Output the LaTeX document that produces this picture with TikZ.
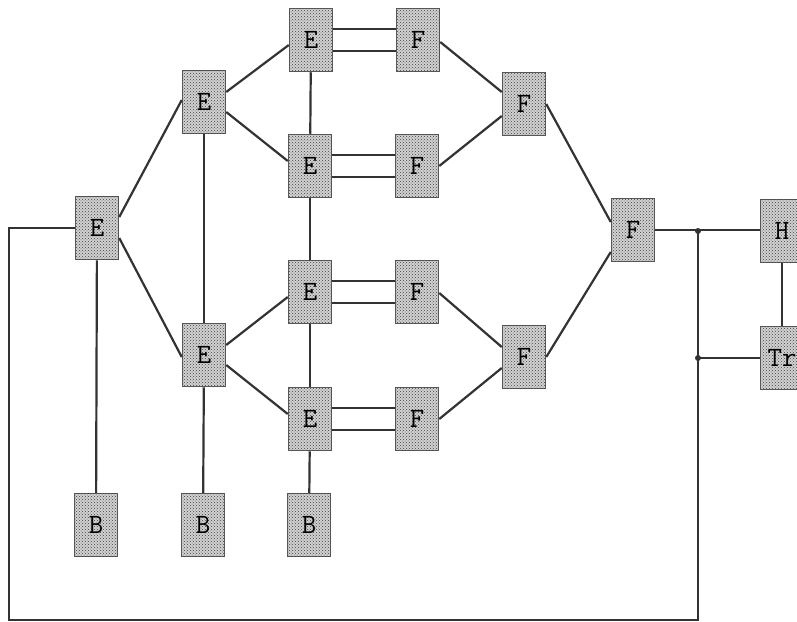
\documentclass[tikz,border=0pt]{standalone}
\usepackage{fontspec}
\newfontfamily\boxfont{Latin Modern Mono}
\usetikzlibrary{patterns}
\newcommand{\bt}[1]{{\fontsize{28pt}{30pt}\selectfont\boxfont #1}}
\tikzset{
  box/.style={draw=black!65, line width=1.5pt, fill=gray!35,
    postaction={pattern=crosshatch dots, pattern color=black!75},
    minimum width=43pt, minimum height=63pt, inner sep=0pt},
  wire/.style={line width=2.2pt, draw=black!80},
  jdot/.style={circle, fill=black!80, inner sep=0pt, minimum size=6pt}
}
\begin{document}
\begin{tikzpicture}[x=1pt,y=-1pt]
\useasboundingbox (0,0) rectangle (797,621);
% nodes
\node[box] (E1) at (97,228) {\bt{E}};
\node[box] (E2) at (204,102) {\bt{E}};
\node[box] (E3) at (204,355) {\bt{E}};
\node[box] (Ea) at (311,40) {\bt{E}};
\node[box] (Eb) at (310,166) {\bt{E}};
\node[box] (Ec) at (310,292) {\bt{E}};
\node[box] (Ed) at (310,419) {\bt{E}};
\node[box] (Fa) at (418,40) {\bt{F}};
\node[box] (Fb) at (417,166) {\bt{F}};
\node[box] (Fc) at (417,292) {\bt{F}};
\node[box] (Fd) at (417,419) {\bt{F}};
\node[box] (Fab) at (524,104) {\bt{F}};
\node[box] (Fcd) at (524,357) {\bt{F}};
\node[box] (Fg) at (633,230) {\bt{F}};
\node[box] (H) at (782,231) {\bt{H}};
\node[box] (Tr) at (782,358) {\bt{Tr}};
\node[box] (B1) at (96,525) {\bt{B}};
\node[box] (B2) at (203,525) {\bt{B}};
\node[box] (B3) at (309,525) {\bt{B}};
% junctions and corners
\node[jdot] (j1) at (698,231) {};
\node[jdot] (j2) at (698,358) {};
\coordinate (bl) at (9,620);
\coordinate (br) at (698,620);
% edges
\draw[wire] ([yshift=11pt]E1.east) -- ([yshift=2pt]E2.west);
\draw[wire] ([yshift=-10pt]E1.east) -- ([yshift=-2pt]E3.west);
\draw[wire] (E2) -- (E3);
\draw[wire] (E1) -- (B1);
\draw[wire] (E3) -- (B2);
\draw[wire] (Ed) -- (B3);
\draw[wire] ([yshift=10pt]E2.east) -- ([yshift=-5pt]Ea.west);
\draw[wire] ([yshift=-10pt]E2.east) -- ([yshift=5pt]Eb.west);
\draw[wire] ([yshift=10pt]E3.east) -- ([yshift=-5pt]Ec.west);
\draw[wire] ([yshift=-10pt]E3.east) -- ([yshift=5pt]Ed.west);
\draw[wire] (Ea) -- (Eb);
\draw[wire] (Eb) -- (Ec);
\draw[wire] (Ec) -- (Ed);
\foreach \e/\f in {Ea/Fa,Eb/Fb,Ec/Fc,Ed/Fd}{
  \draw[wire] ([yshift=11pt]\e.east) -- ([yshift=11pt]\f.west);
  \draw[wire] ([yshift=-11pt]\e.east) -- ([yshift=-11pt]\f.west);
}
\draw[wire] ([yshift=-2pt]Fa.east) -- ([yshift=12pt]Fab.west);
\draw[wire] (Fb.east) -- ([yshift=-12pt]Fab.west);
\draw[wire] ([yshift=-1pt]Fc.east) -- ([yshift=10pt]Fcd.west);
\draw[wire] (Fd.east) -- ([yshift=-11pt]Fcd.west);
\draw[wire] (Fab.east) -- ([yshift=8pt]Fg.west);
\draw[wire] (Fcd.east) -- ([yshift=-22pt]Fg.west);
\draw[wire] (Fg.east) -- (Fg.east -| H.west);
\draw[wire] (H) -- (Tr);
\draw[wire] (j2.center) -- (j2 -| Tr.west);
\draw[wire] (E1.west) -| (bl) -- (br) -- (j1.center);
\end{tikzpicture}
\end{document}
